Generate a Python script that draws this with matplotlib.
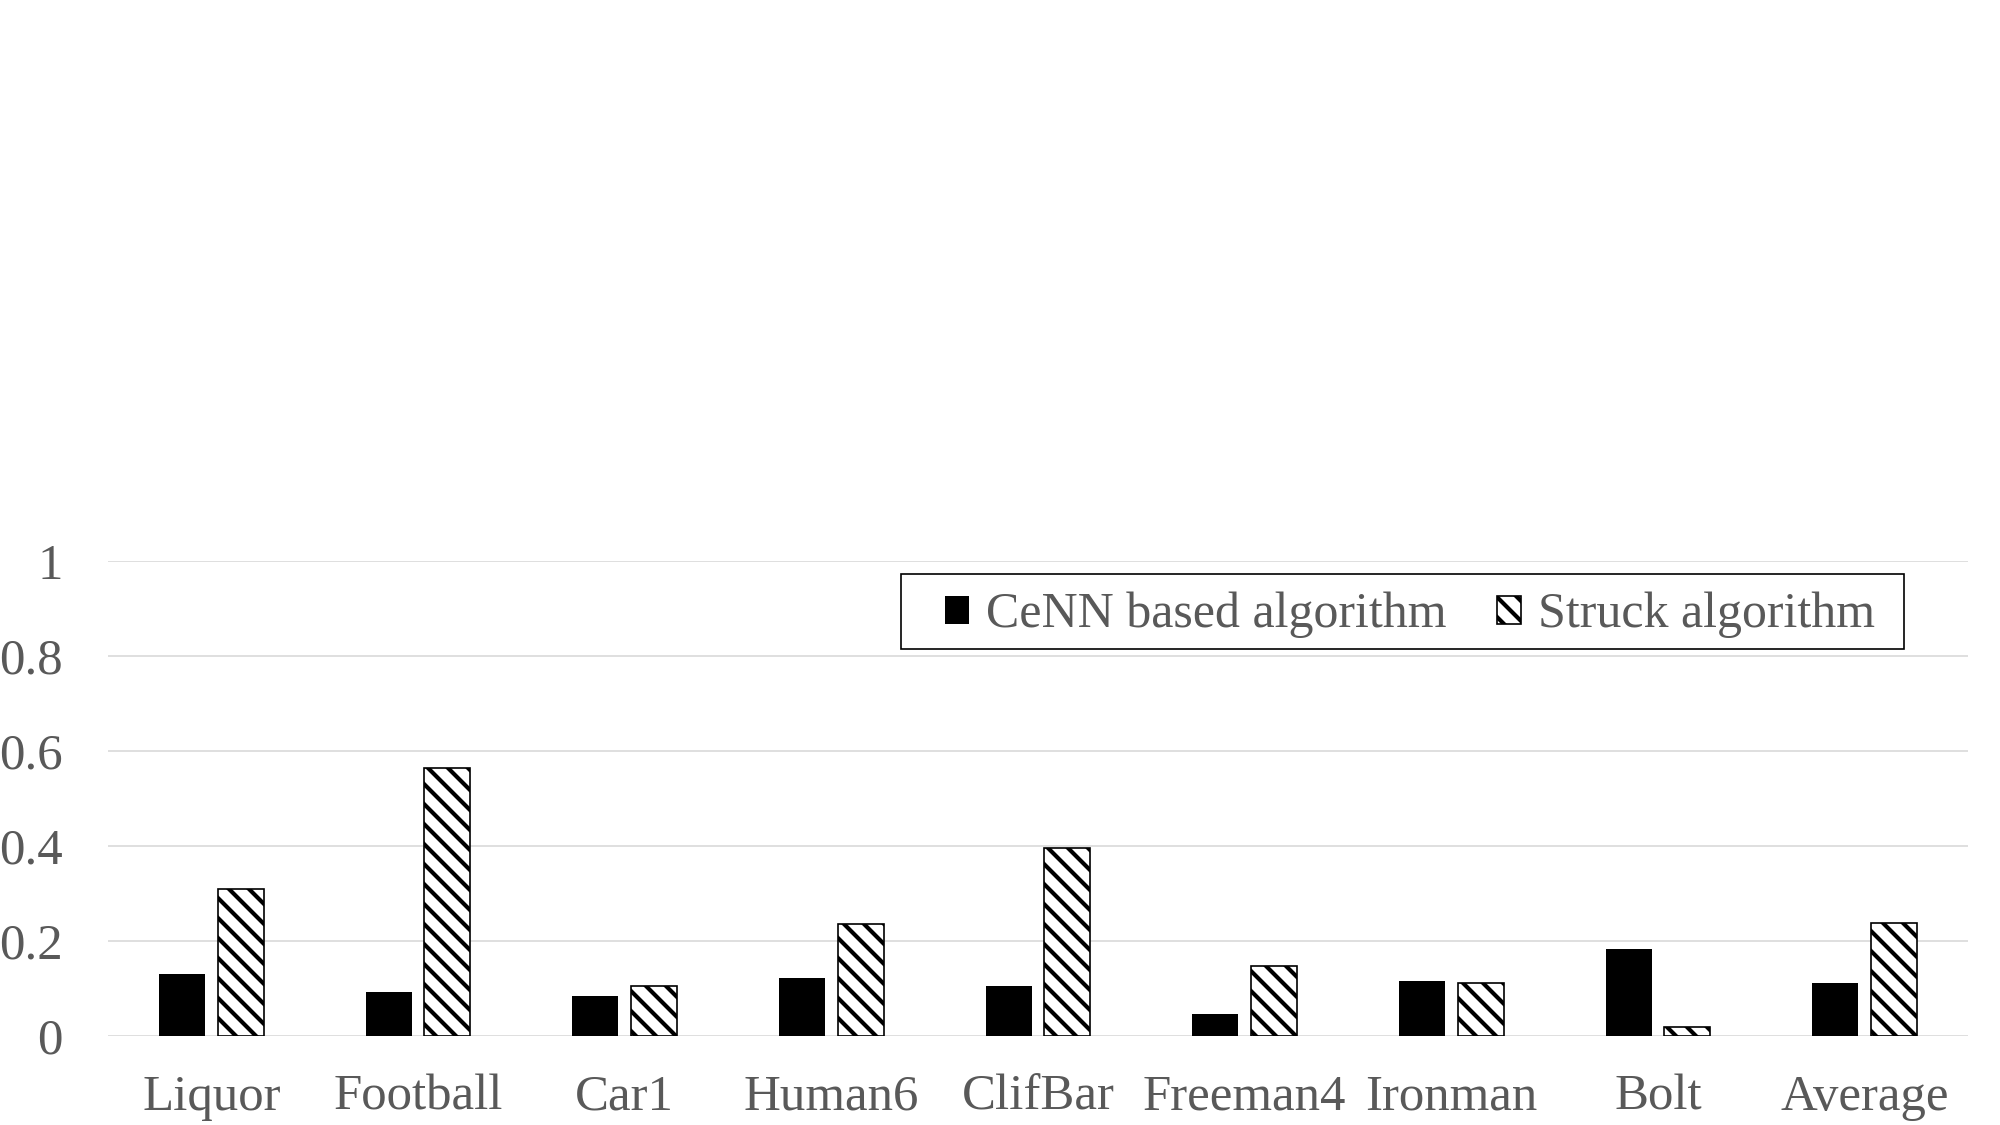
import matplotlib
matplotlib.use('Agg')
import matplotlib.pyplot as plt
from matplotlib.patches import Rectangle
import numpy as np

categories = ['Liquor', 'Football', 'Car1', 'Human6', 'ClifBar',
              'Freeman4', 'Ironman', 'Bolt', 'Average']
cenn = [0.129, 0.092, 0.083, 0.122, 0.105, 0.046, 0.116, 0.183, 0.110]
struck = [0.308, 0.564, 0.104, 0.236, 0.395, 0.147, 0.111, 0.018, 0.237]
yticks = [0, 0.2, 0.4, 0.6, 0.8, 1]
ytick_labels = ['0', '0.2', '0.4', '0.6', '0.8', '1']

plt.rcParams['font.family'] = ['Liberation Serif', 'DejaVu Serif']
plt.rcParams['hatch.linewidth'] = 2.5
text_grey = '#595959'
fs = 30.5

fig = plt.figure(figsize=(2000 / 120, 1125 / 120), dpi=120)
ax = fig.add_axes([0.054, 0.0794, 0.93, 0.4219])

x = np.arange(len(categories))
width = 0.223
gap = 0.06
off = (width + gap) / 2

ax.bar(x - off, cenn, width, color='black', linewidth=0,
       label='CeNN based algorithm', zorder=3)
ax.bar(x + off, struck, width, color='white', edgecolor='black',
       hatch='\\\\', linewidth=1.0, label='Struck algorithm', zorder=3)

ax.set_xlim(-0.5, len(categories) - 0.5)
ax.set_ylim(0, 1)
ax.set_yticks(yticks, ytick_labels)
ax.set_xticks(x, categories)
ax.tick_params(length=0, labelsize=fs, labelcolor=text_grey)
ax.tick_params(axis='y', pad=27)
ax.tick_params(axis='x', pad=23)
ax.yaxis.grid(True, color='#d9d9d9', linewidth=1.0, zorder=0)
for s in ax.spines.values():
    s.set_visible(False)

# legend frame drawn separately so the side padding can be wider
ax.add_patch(Rectangle((0.4263, 0.8146), 0.9656 - 0.4263, 0.9726 - 0.8146,
                       transform=ax.transAxes, facecolor='white',
                       edgecolor='black', linewidth=1.0, zorder=4))
leg = ax.legend(loc='center', bbox_to_anchor=(0.700, 0.886),
                ncol=2, fontsize=30, frameon=False, handlelength=0.48,
                handleheight=0.48, handletextpad=0.35, columnspacing=1.0,
                borderpad=0.3)
leg.set_zorder(5)
for t in leg.get_texts():
    t.set_color(text_grey)

fig.savefig('out.png', dpi=120, facecolor='white')
